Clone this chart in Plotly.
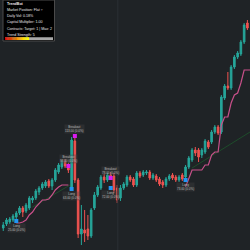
import plotly.graph_objects as go

# ---------------- data ----------------
idx = list(range(76))
opens = [22, 26, 28, 30, 33, 37, 42, 39, 42, 50, 52, 58, 62, 64, 69, 64, 70, 78, 83, 88,
         85, 63, 109, 70, 16, 20, 21, 14, 42, 55, 62, 73, 70, 75, 74, 62, 52, 62, 65, 73,
         71, 65, 77, 75, 77, 78, 72, 74, 71, 68, 65, 71, 75, 73, 70, 75, 73, 83, 90, 100,
         100, 95, 98, 108, 108, 118, 123, 118, 152, 164, 162, 183, 193, 196, 208, 227]
highs = [28, 32, 33, 36, 39, 44, 44, 47, 54, 54, 61, 64, 68, 70, 71, 72, 82, 87, 90, 91,
         87, 113, 112, 72, 45, 40, 35, 42, 58, 65, 75, 76, 77, 78, 77, 65, 65, 68, 75, 75,
         73, 79, 79, 80, 80, 80, 77, 76, 73, 70, 73, 76, 77, 75, 75, 77, 85, 94, 102, 103,
         102, 102, 111, 110, 120, 125, 125, 155, 166, 178, 185, 195, 199, 210, 227, 230]
lows = [19, 24, 26, 28, 31, 35, 33, 37, 40, 47, 50, 55, 60, 62, 62, 60, 68, 76, 81, 82,
        77, 60, 67, 12, 5, 8, 10, 12, 40, 53, 60, 67, 68, 70, 57, 47, 49, 60, 63, 68,
        63, 63, 72, 73, 75, 70, 70, 68, 64, 62, 63, 69, 70, 68, 68, 69, 71, 81, 88, 94,
        88, 92, 96, 101, 106, 116, 115, 116, 150, 160, 160, 181, 191, 194, 206, 220]
closes = [25, 30, 31, 34, 37, 42, 38, 45, 52, 52, 59, 62, 66, 68, 64, 70, 80, 85, 88, 84,
          80, 110, 70, 16, 21, 17, 14, 40, 55, 63, 73, 70, 75, 72, 60, 50, 62, 66, 73, 70,
          65, 77, 74, 78, 78, 72, 75, 70, 66, 65, 71, 74, 72, 70, 73, 71, 83, 92, 100, 97,
          93, 100, 109, 103, 118, 123, 117, 153, 164, 162, 183, 193, 197, 208, 225, 222]

# trailing stops
stop1_x = [4, 5, 6, 7, 8, 9, 10, 11, 12, 13, 14, 15, 16, 17, 18, 19, 20]
stop1_y = [27, 27, 28, 30, 35, 38, 43, 47, 50, 50, 51, 55, 60, 63, 65, 65, 65]
stop2_x = [56, 57, 58, 59, 60, 61, 62, 63, 64, 65, 66, 67, 68, 69, 70, 71, 72, 73, 74, 75.8]
stop2_y = [63, 72, 80, 80, 80, 80, 85, 85, 95, 98, 98, 125, 133, 133, 147, 155, 157, 167, 180, 180]

# trend lines
trend1_x = [9, 20.5]
trend1_y = [43, 65]
trend2_x = [58, 75.8]
trend2_y = [82, 118]

# signals
long_x = [4, 21, 33, 56]
long_y = [29, 61, 62, 70]
long_txt = ["25.00", "63.00", "72.00", "73.00"]
brk_x = [20, 22, 33]
brk_y = [84, 114, 72]
brk_txt = ["88.00", "113.00", "78.00"]

info_lines = ["TrendBot", "Market Position: Flat ÷", "Daily Vol: 0.18%",
              "Capital Multiplier: 1.00", "Contracts: Target: 1 | Max: 2", "Trend Strength: 5"]
trend_strength = 5
trend_max = 10

# ---------------- figure ----------------
BG = "#1f2326"
UP = "#26a69a"
DN = "#ef5350"

fig = go.Figure()
fig.add_trace(go.Candlestick(
    x=idx, open=opens, high=highs, low=lows, close=closes,
    increasing=dict(line=dict(color=UP, width=1), fillcolor=UP),
    decreasing=dict(line=dict(color=DN, width=1), fillcolor=DN),
    whiskerwidth=0, showlegend=False))

for tx, ty in [(trend1_x, trend1_y), (trend2_x, trend2_y)]:
    fig.add_trace(go.Scatter(x=tx, y=ty, mode="lines",
                             line=dict(color="#1e4d2b", width=1), showlegend=False))

for sx, sy in [(stop1_x, stop1_y), (stop2_x, stop2_y)]:
    fig.add_trace(go.Scatter(x=sx, y=sy, mode="lines",
                             line=dict(color="#c9508a", width=1.2), showlegend=False))

fig.add_trace(go.Scatter(x=long_x, y=long_y, mode="markers",
                         marker=dict(symbol="square", size=4, color="#2196f3"), showlegend=False))
fig.add_trace(go.Scatter(x=brk_x, y=brk_y, mode="markers",
                         marker=dict(symbol="square", size=4, color="#d81bf0"), showlegend=False))

for x, y, t in zip(long_x, long_y, long_txt):
    fig.add_annotation(x=x, y=y, text="Long<br>" + t + " (0.0%)", showarrow=False,
                       yanchor="top", yshift=-2, font=dict(size=3, color="#bdbdbd", family="Arial"),
                       bgcolor="rgba(70,70,70,0.35)", borderpad=0)
for x, y, t in zip(brk_x, brk_y, brk_txt):
    fig.add_annotation(x=x, y=y, text="Breakout<br>" + t + " (0.0%)", showarrow=False,
                       yanchor="bottom", yshift=2, font=dict(size=3, color="#bdbdbd", family="Arial"),
                       bgcolor="rgba(70,70,70,0.35)", borderpad=0)

# vertical separator
fig.add_shape(type="line", x0=35.2, x1=35.2, y0=0, y1=1, xref="x", yref="paper",
              line=dict(color="#2b3035", width=1))

# info box
fig.add_shape(type="rect", xref="paper", yref="paper", x0=0.012, x1=0.218, y0=0.836, y1=1.0,
              fillcolor="#000000", line=dict(color="#4a4a4a", width=1))
ys = [0.986, 0.962, 0.937, 0.911, 0.884, 0.861]
for i, (t, yy) in enumerate(zip(info_lines, ys)):
    fig.add_annotation(xref="paper", yref="paper", x=0.02, y=yy, text=("<b>" + t + "</b>") if i == 0 else t,
                       showarrow=False, xanchor="left", yanchor="middle",
                       font=dict(size=3.6, color="#e8e8e8", family="Arial"))

# gradient strength bar
bx0, bx1 = 0.02, 0.212
by0, by1 = 0.840, 0.851
fig.add_shape(type="rect", xref="paper", yref="paper", x0=bx0, x1=bx1, y0=by0, y1=by1,
              fillcolor="#a8a8a8", line=dict(width=0))
frac = trend_strength / trend_max
n = 20
w = (bx1 - bx0) * frac / n
for k in range(n):
    f = k / (n - 1)
    r = 220 if f < 0.5 else 255
    g = int(255 * min(1.0, f * 1.1))
    col = f"rgb({r},{g},0)"
    fig.add_shape(type="rect", xref="paper", yref="paper", x0=bx0 + k * w, x1=bx0 + (k + 1) * w + 0.0005,
                  y0=by0, y1=by1, fillcolor=col, line=dict(width=0))

fig.update_layout(
    width=250, height=250, margin=dict(l=0, r=0, t=0, b=0),
    paper_bgcolor=BG, plot_bgcolor=BG, showlegend=False,
    xaxis=dict(range=[-1.0, 75.8], visible=False, rangeslider=dict(visible=False)),
    yaxis=dict(range=[0, 250], visible=False),
)
fig.write_html("out.html")
